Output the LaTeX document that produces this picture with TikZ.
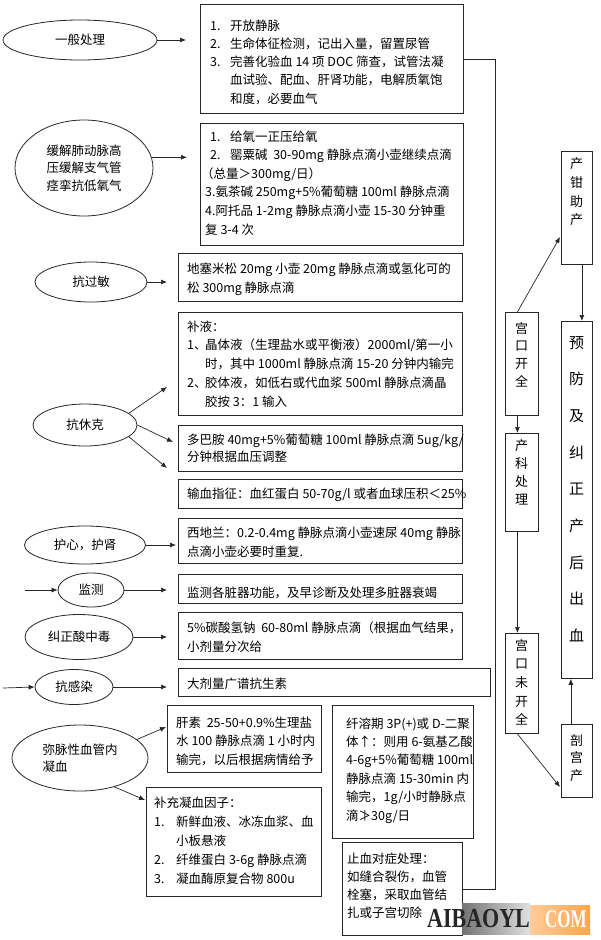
\documentclass[tikz,border=0pt]{standalone}
\usepackage{fontspec}
\usepackage{graphicx}
\setmainfont{Noto Sans CJK SC}
\newfontfamily\wmfont{Liberation Serif}
\usetikzlibrary{arrows.meta,shapes.geometric}
\newcommand\fs{\fontsize{12.5}{18.5}\selectfont}
\newcommand\itm[2]{\makebox[20pt][l]{#1}#2}
\newcommand\itmx[3]{\makebox[#1][l]{#2}#3}
\newcommand\cnt{\hspace*{20pt}}
\newcommand\bx[5]{\node[box,anchor=north west,minimum width={(#4)-(#2)},minimum height={(#5)-(#3)}] (#1) at (#2,#3) {};}
\newcommand\tx[5][18.5]{\node[txt,anchor=base west,font=\fontsize{12.5}{#1}\selectfont] (#2) at (#3,#4) {\parbox[t]{330pt}{\raggedright #5}};}
\newcommand\vtx[5]{\node[txt,anchor=base,font=\fontsize{#4}{#5}\selectfont] (#1) at (#2) {\parbox[t]{24pt}{\centering #3}};}
\tikzset{
  box/.style={draw=black!85, line width=0.8pt, rectangle, inner sep=0pt},
  ell/.style={draw=black!85, line width=0.8pt, ellipse, inner sep=0pt, align=center, font=\fontsize{12.5}{17.5}\selectfont},
  txt/.style={inner sep=0pt, font=\fs},
  arr/.style={draw=black!85, line width=0.7pt, -{Latex[length=6pt,width=5pt]}},
  ln/.style={draw=black!85, line width=0.8pt},
}
\begin{document}
\begin{tikzpicture}[x=1pt,y=-1pt]
\useasboundingbox (0,0) rectangle (600,940);
\fill[white] (0,0) rectangle (600,940);

% ---------- left ellipses ----------
\node[ell,minimum width=154,minimum height=40] (e1) at (80,40) {一般处理};
\node[ell,minimum width=138,minimum height=96] (e2) at (84,168) {缓解肺动脉高\\压缓解支气管\\痉挛抗低氧气};
\node[ell,minimum width=112,minimum height=40] (e3) at (91,282) {抗过敏};
\node[ell,minimum width=104,minimum height=42] (e4) at (85,425) {抗休克};
\node[ell,minimum width=121,minimum height=38] (e5) at (85,545) {护心，护肾};
\node[ell,minimum width=66,minimum height=34] (e6) at (91,590) {监测};
\node[ell,minimum width=108,minimum height=45] (e7) at (79,637) {纠正酸中毒};
\node[ell,minimum width=78,minimum height=35] (e8) at (74,687) {抗感染};
\node[ell,minimum width=136,minimum height=66,align=left] (e9) at (80,758) {弥脉性血管内\\凝血};

% ---------- boxes ----------
\bx{b1}{200}{4}{463}{113}
\bx{b2}{200}{123}{463}{245}
\bx{b3}{178}{253}{462}{301}
\bx{b4}{178}{312}{462}{415}
\bx{b5}{178}{425}{462}{471}
\bx{b6}{178}{479}{462}{508}
\bx{b7}{178}{518}{462}{563}
\bx{b8}{178}{574}{462}{603}
\bx{b9}{178}{612}{462}{659}
\bx{b10}{178}{668}{490}{696}
\bx{b11}{167}{705}{321}{772}
\bx{b12}{146}{787}{321}{896}
\bx{b13}{332}{705}{473}{838}
\bx{b14}{342}{842}{462}{935}

\bx{r1}{505}{312}{538}{415}
\bx{r2}{561}{151}{592}{264}
\bx{r3}{561}{321}{592}{678}
\bx{r4}{505}{433}{538}{531}
\bx{r5}{505}{633}{538}{733}
\bx{r6}{561}{724}{592}{797}

% ---------- box texts ----------
\tx[18.3]{t1}{210}{30}{\itm{1.}{开放静脉}\\
\itm{2.}{生命体征检测，记出入量，留置尿管}\\
\itm{3.}{完善化验血 14 项 DOC 筛查，试管法凝}\\
\cnt 血试验、配血、肝肾功能，电解质氧饱\\
\cnt 和度，必要血气}

\tx[18.6]{t2}{205}{141}{\hspace*{5pt}\itm{1.}{给氧一正压给氧}\\
\hspace*{5pt}\itm{2.}{罂粟碱\ \ 30-90mg 静脉点滴小壶继续点滴}\\
\hspace*{-4pt}（总量＞300mg/日）\\
3.氨茶碱 250mg+5\%葡萄糖 100ml 静脉点滴\\
4.阿托品 1-2mg 静脉点滴小壶 15-30 分钟重\\
复 3-4 次}

\tx[19.5]{t3}{187}{273}{地塞米松 20mg 小壶 20mg 静脉点滴或氢化可的\\
松 300mg 静脉点滴}

\tx[18.75]{t4}{187}{331}{补液：\\
\itmx{18pt}{1、}{晶体液（生理盐水或平衡液）2000ml/第一小}\\
\hspace*{18pt}时，其中 1000ml 静脉点滴 15-20 分钟内输完\\
\itmx{18pt}{2、}{胶体液，如低右或代血浆 500ml 静脉点滴晶}\\
\hspace*{18pt}胶按 3：1 输入}

\tx[17.5]{t5}{187}{444}{多巴胺 40mg+5\%葡萄糖 100ml 静脉点滴 5ug/kg/\\
分钟根据血压调整}

\tx{t6}{187}{498}{输血指征：血红蛋白 50-70g/l 或者血球压积＜25\%}

\tx[19.5]{t7}{187}{537}{西地兰：0.2-0.4mg 静脉点滴小壶速尿 40mg 静脉\\
点滴小壶必要时重复.}

\tx{t8}{187}{597}{监测各脏器功能，及早诊断及处理多脏器衰竭}

\tx[19]{t9}{187}{632}{5\%碳酸氢钠\ \ 60-80ml 静脉点滴（根据血气结果，\\
小剂量分次给}

\tx{t10}{187}{688}{大剂量广谱抗生素}

\tx[18.5]{t11}{176}{727}{肝素\ \ 25-50+0.9\%生理盐\\
水 100 静脉点滴 1 小时内\\
输完，以后根据病情给予}

\tx[19]{t12}{154}{807}{补充凝血因子：\\
\itmx{22pt}{1.}{新鲜血液、冰冻血浆、血}\\
\hspace*{22pt}小板悬液\\
\itmx{22pt}{2.}{纤维蛋白 3-6g 静脉点滴}\\
\itmx{22pt}{3.}{凝血酶原复合物 800u}}

\tx[18.4]{t13}{346}{728}{纤溶期 3P(+)或 D-二聚\\
体↑：则用 6-氨基乙酸\\
4-6g+5\%葡萄糖 100ml\\
静脉点滴 15-30min 内\\
输完，1g/小时静脉点\\
滴≯30g/日}

\tx[18.3]{t14}{347}{863}{止血对症处理：\\
如缝合裂伤，血管\\
栓塞，采取血管结\\
扎或子宫切除}

% ---------- right column texts ----------
\vtx{v1}{521.5,333}{宫\\口\\开\\全}{13}{17.7}
\vtx{v2}{576.5,168.5}{产\\钳\\助\\产}{13}{18.8}
\vtx{v3}{576.5,348}{预\\防\\及\\纠\\正\\产\\后\\出\\血}{15}{36.7}
\vtx{v4}{521.5,450}{产\\科\\处\\理}{13}{18}
\vtx{v5}{521.5,650}{宫\\口\\未\\开\\全}{13}{18.7}
\vtx{v6}{576.5,745}{剖\\宫\\产}{13}{17.5}

% ---------- connectors ----------
\draw[arr,shorten >=14pt] (e1.east) -- (e1.east -| b1.west);
\draw[arr,shorten >=13pt] (e2.9) -- (e2.9 -| b2.west);
\draw[arr,shorten >=11pt] (e3.east) -- (e3.east -| b3.west);
\coordinate (k1) at (167,387);
\coordinate (k2) at (173,442);
\coordinate (k3) at (167,468);
\draw[arr] (e4.15) -- (k1);
\draw[arr] (e4.east) -- (k2);
\draw[arr] (e4.-15) -- (k3);
\draw[arr,shorten >=2pt] (e5.east) -- (e5.east -| b7.west);
\coordinate (in6) at (25,590);
\draw[arr] (in6) -- (e6.west);
\draw[arr,shorten >=11pt] (e6.east) -- (e6.east -| b8.west);
\draw[arr,shorten >=11pt] (e7.east) -- (e7.east -| b9.west);
\coordinate (in8) at (3,688);
\draw[arr] (in8) -- (e8.west);
\draw[arr,shorten >=11pt] (e8.east) -- (e8.east -| b10.west);
\coordinate (k4) at (166,727);
\coordinate (k5) at (145,800);
\draw[arr] (e9.18) -- (k4);
\draw[arr] (e9.-40) -- (k5);

\coordinate (k6) at (560,237);
\coordinate (k7) at (560,787);
\draw[arr] ([xshift=-4.5pt]r1.north) -- (k6);
\draw[arr] ([xshift=5pt]r2.south) -- ([xshift=5pt]r3.north);
\draw[arr] ([xshift=-4.5pt]r1.south) -- ([xshift=-4.5pt]r4.north);
\draw[arr] ([xshift=-4.5pt]r4.south) -- ([xshift=-4.5pt]r5.north);
\draw[arr] ([xshift=-4.5pt]r5.south) -- (k7);
\draw[arr] ([xshift=-6pt]r6.north) -- ([xshift=-6pt]r3.south);

\coordinate (vx) at (495,0);
\draw[ln] (b1.east) -| (vx |- b14.east) -- (b14.east);

% ---------- watermark ----------
\shade[left color=black!55, right color=black!12] (462,903) rectangle (530,934);
\shade[left color=orange!40, right color=orange!70] (530,905) rectangle (590,934);
\node[inner sep=0pt,anchor=base west,font=\wmfont\bfseries\fontsize{22}{22}\selectfont,text=black!85] (wm1) at (427,927) {\scalebox{1}[1.25]{AIBAOYL}};
\node[inner sep=0pt,anchor=base west,font=\wmfont\bfseries\fontsize{17}{17}\selectfont,text=white] (wm2) at (545,927) {\scalebox{1}[1.5]{COM}};
\end{tikzpicture}
\end{document}
